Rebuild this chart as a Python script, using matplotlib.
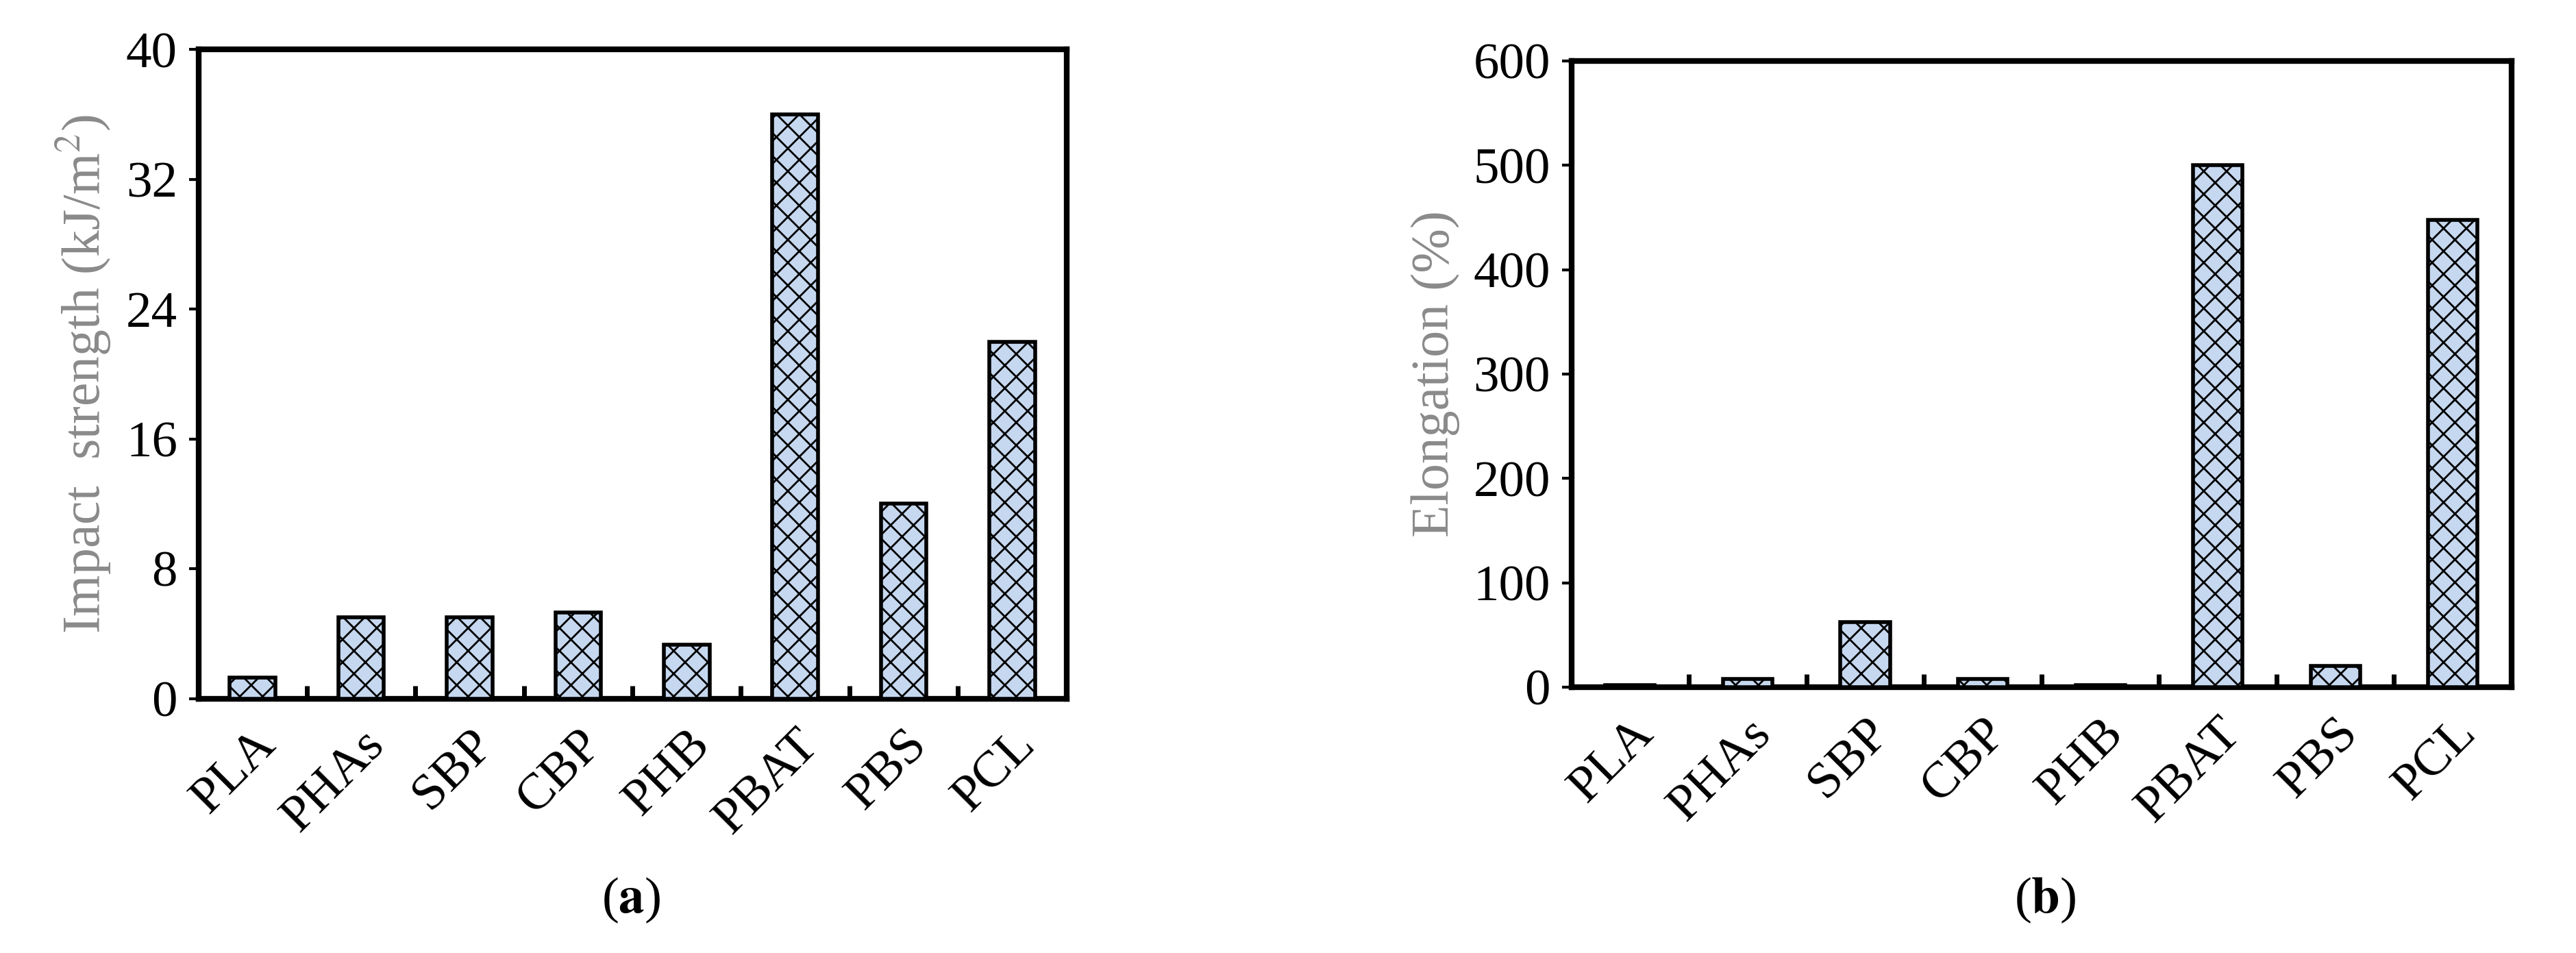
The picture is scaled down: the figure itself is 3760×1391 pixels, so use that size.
import matplotlib
matplotlib.use("Agg")
import matplotlib.pyplot as plt
import numpy as np

categories = ["PLA", "PHAs", "SBP", "CBP", "PHB", "PBAT", "PBS", "PCL"]
impact = [1.3, 5.0, 5.0, 5.3, 3.3, 36.0, 12.0, 22.0]
elong = [2, 8, 62, 8, 2, 500, 20, 448]

plt.rcParams['font.family'] = ['Liberation Serif', 'DejaVu Serif']
plt.rcParams['hatch.linewidth'] = 2.0
plt.rcParams['mathtext.fontset'] = 'stix'

fig = plt.figure(figsize=(37.6, 13.91), dpi=100)
axa = fig.add_axes([0.077, 0.267, 0.337, 0.681])
axb = fig.add_axes([0.610, 0.279, 0.365, 0.657])

def draw(ax, vals, ymax, step, ylabel):
    x = np.arange(len(categories))
    ax.bar(x, vals, width=0.42, color='#c6d8ef', edgecolor='black', linewidth=4, hatch='x', zorder=3)
    ax.set_xlim(-0.5, len(categories) - 0.5)
    ax.set_ylim(0, ymax)
    ax.set_yticks(np.arange(0, ymax + 1, step))
    ax.set_xticks(x)
    ax.set_xticklabels(categories, rotation=45, ha='right', rotation_mode='anchor')
    ax.set_xticks(np.arange(0.5, len(categories) - 1, 1), minor=True)
    ax.tick_params(axis='x', which='major', length=0, labelsize=54, pad=24)
    ax.tick_params(axis='x', which='minor', direction='in', length=14, width=5)
    ax.tick_params(axis='y', direction='out', length=10, width=3, labelsize=54, pad=12)
    for s in ax.spines.values():
        s.set_linewidth(6)
    ax.set_ylabel(ylabel, color='#8a8a8a', fontsize=56, labelpad=14)

draw(axa, impact, 40, 8, "Impact  strength (kJ/m$^2$)")
draw(axb, elong, 600, 100, "Elongation (%)")
fig.text(0.245, 0.055, "(" + r"$\mathbf{a}$" + ")", ha='center', va='center', fontsize=54)
fig.text(0.794, 0.055, "(" + r"$\mathbf{b}$" + ")", ha='center', va='center', fontsize=54)
fig.savefig("out.png", dpi=100)
